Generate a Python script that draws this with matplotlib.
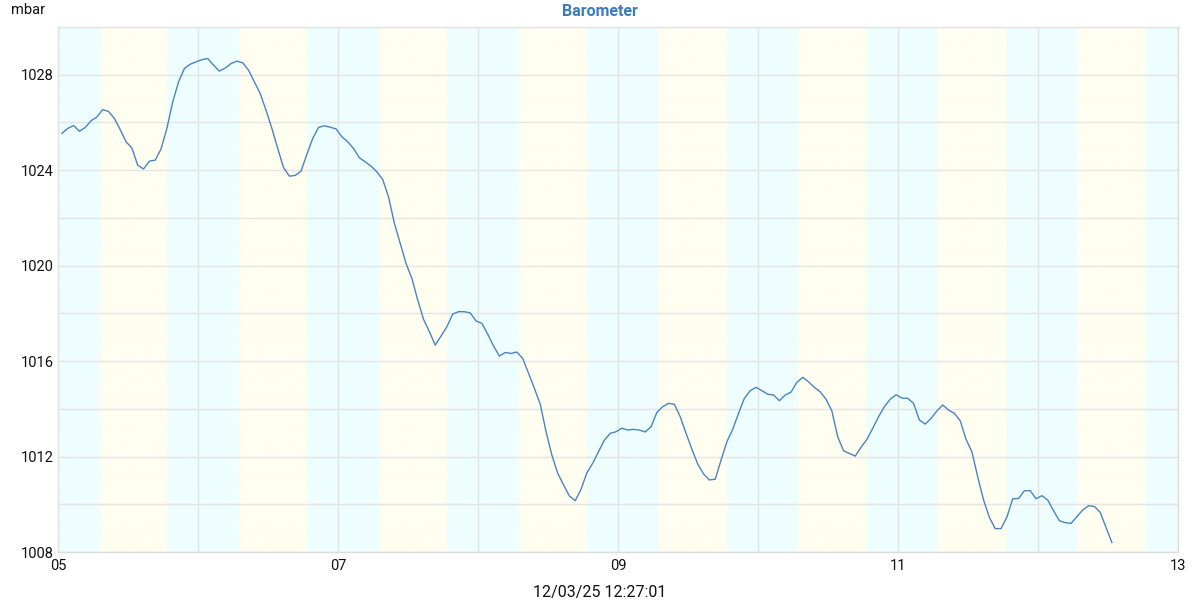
import numpy as np
import pandas as pd
import matplotlib
matplotlib.use('Agg')
import matplotlib.pyplot as plt
import matplotlib.dates as mdates
from matplotlib.ticker import MultipleLocator

plt.rcParams['font.family'] = ['Roboto', 'DejaVu Sans']

title = 'Barometer'
unit = 'mbar'
stamp = '12/03/25 12:27:01'
first_reading = '2025-03-05 00:40'
x_start = '2025-03-05'
x_end = '2025-03-13'

pressure = [
    1025.54, 1025.75, 1025.87, 1025.63, 1025.79, 1026.07, 1026.23, 1026.54, 1026.46, 1026.17,
    1025.70, 1025.19, 1024.93, 1024.21, 1024.05, 1024.38, 1024.42, 1024.89, 1025.75, 1026.86,
    1027.70, 1028.26, 1028.44, 1028.54, 1028.63, 1028.68, 1028.40, 1028.15, 1028.28, 1028.47,
    1028.57, 1028.50, 1028.19, 1027.70, 1027.21, 1026.51, 1025.75, 1024.91, 1024.11, 1023.75,
    1023.78, 1023.96, 1024.67, 1025.33, 1025.79, 1025.86, 1025.80, 1025.73, 1025.40, 1025.19,
    1024.91, 1024.52, 1024.35, 1024.17, 1023.93, 1023.61, 1022.88, 1021.77, 1020.93, 1020.09,
    1019.46, 1018.56, 1017.75, 1017.23, 1016.67, 1017.05, 1017.44, 1017.97, 1018.07, 1018.07,
    1018.02, 1017.68, 1017.58, 1017.13, 1016.63, 1016.21, 1016.36, 1016.32, 1016.38, 1016.11,
    1015.49, 1014.86, 1014.20, 1013.04, 1012.06, 1011.30, 1010.81, 1010.35, 1010.15, 1010.63,
    1011.32, 1011.72, 1012.20, 1012.69, 1012.97, 1013.04, 1013.19, 1013.11, 1013.14, 1013.11,
    1013.03, 1013.25, 1013.85, 1014.09, 1014.23, 1014.19, 1013.67, 1012.97, 1012.31, 1011.69,
    1011.27, 1011.02, 1011.05, 1011.85, 1012.62, 1013.14, 1013.81, 1014.44, 1014.76, 1014.90,
    1014.76, 1014.61, 1014.58, 1014.34, 1014.58, 1014.70, 1015.11, 1015.32, 1015.13, 1014.90,
    1014.71, 1014.40, 1013.91, 1012.83, 1012.24, 1012.13, 1012.02, 1012.39, 1012.72, 1013.18,
    1013.67, 1014.09, 1014.40, 1014.59, 1014.45, 1014.44, 1014.23, 1013.53, 1013.36, 1013.60,
    1013.91, 1014.16, 1013.95, 1013.81, 1013.50, 1012.72, 1012.20, 1011.15, 1010.18, 1009.45,
    1008.98, 1008.98, 1009.46, 1010.23, 1010.24, 1010.57, 1010.57, 1010.23, 1010.36, 1010.18,
    1009.73, 1009.31, 1009.23, 1009.20, 1009.48, 1009.76, 1009.94, 1009.91, 1009.66, 1009.03,
    1008.40,
]

days = ['2025-03-05', '2025-03-06', '2025-03-07', '2025-03-08',
        '2025-03-09', '2025-03-10', '2025-03-11', '2025-03-12']
sunrise_hour = [7.20, 7.15, 7.10, 7.02, 6.98, 6.90, 6.85, 6.75]
sunset_hour = [18.68, 18.68, 18.68, 18.68, 18.66, 18.62, 18.55, 18.55]

y_min, y_max = 1008, 1030
tick_labels_x = ['05', '07', '09', '11', '13']

night_col = np.array([238, 254, 254]) / 255
day_col = np.array([255, 254, 240]) / 255
line_col = '#4a84c0'
grid_col = '#e4e4e4'

times = pd.date_range(first_reading, periods=len(pressure), freq='h')

fig = plt.figure(figsize=(12, 6), dpi=100)
ax = fig.add_axes([58 / 1200, 48 / 600, 1120 / 1200, 525 / 600])

x0 = mdates.date2num(pd.Timestamp(x_start))
x1 = mdates.date2num(pd.Timestamp(x_end))

# day / night background with soft edges
t = np.linspace(x0, x1, 4000)
frac = np.zeros_like(t)
w = 0.5 / 24
for d, sr, ss in zip(days, sunrise_hour, sunset_hour):
    base = mdates.date2num(pd.Timestamp(d))
    a = base + sr / 24
    b = base + ss / 24
    up = np.clip((t - a) / w + 0.5, 0, 1)
    dn = np.clip((b - t) / w + 0.5, 0, 1)
    frac = np.maximum(frac, up * dn)
img = night_col[None, :] * (1 - frac[:, None]) + day_col[None, :] * frac[:, None]
ax.imshow(img[None, :, :], extent=[x0, x1, y_min, y_max], aspect='auto',
          zorder=0, interpolation='bilinear')

ax.plot(times, pressure, color=line_col, lw=1.0, zorder=3)

ax.set_xlim(x0, x1)
ax.set_ylim(y_min, y_max)

ax.xaxis.set_major_locator(mdates.DayLocator(bymonthday=[int(s) for s in tick_labels_x]))
ax.xaxis.set_major_formatter(mdates.DateFormatter('%d'))
ax.xaxis.set_minor_locator(mdates.DayLocator())
ax.yaxis.set_major_locator(MultipleLocator(4))
ax.yaxis.set_minor_locator(MultipleLocator(2))

ax.grid(True, which='both', color=grid_col, lw=1.0, zorder=1)
ax.set_axisbelow(False)
for gl in ax.get_xgridlines() + ax.get_ygridlines():
    gl.set_zorder(1)
ax.grid(True, which='minor', color=grid_col, lw=1.0)

ax.tick_params(which='both', length=0)
ax.tick_params(axis='y', pad=3, labelsize=10.5, labelcolor='#111111')
ax.tick_params(axis='x', pad=5, labelsize=10.5, labelcolor='#111111')
for s in ax.spines.values():
    s.set_color('#dcdcdc')
    s.set_linewidth(1.0)

fig.text(11 / 1200, 1 - 10 / 600, unit, ha='left', va='center', fontsize=10.5, color='#111111')
fig.text(0.5, 1 - 12 / 600, title, ha='center', va='center', fontsize=11.5,
         fontweight='bold', color='#3b7cb8')
fig.text(0.5, 1 - 592 / 600, stamp, ha='center', va='center', fontsize=11.5, color='#111111')

fig.savefig('out.png', dpi=100)
